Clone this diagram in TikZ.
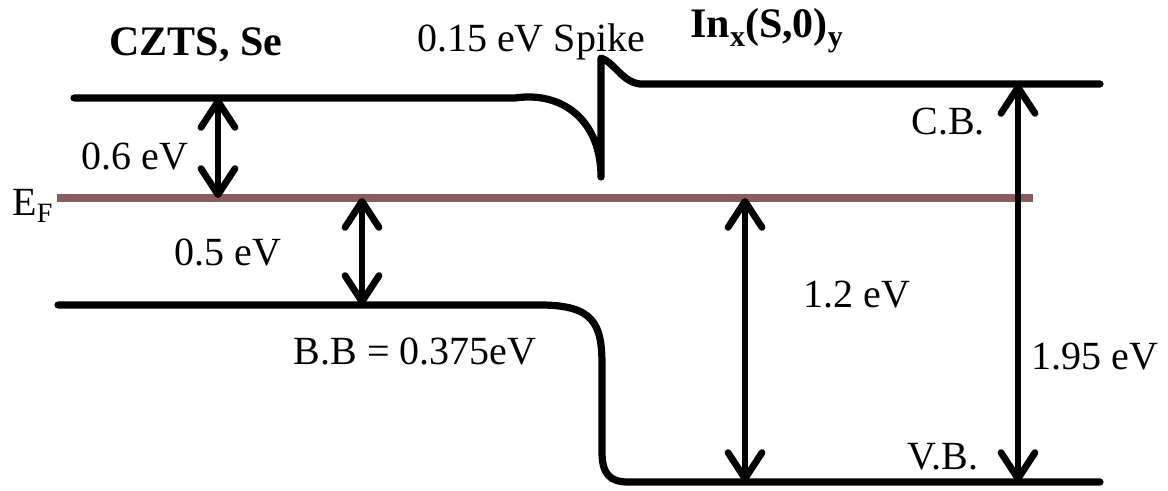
\documentclass[tikz,border=0pt]{standalone}
\usepackage{fontspec}
\setmainfont{Liberation Serif}
\usepackage{xcolor}
\usepackage{tikz}
\usetikzlibrary{arrows.meta,positioning}
\definecolor{fermic}{HTML}{8C5C5C}
\newcommand{\lowsub}[1]{\raisebox{-0.45ex}{\fontsize{15}{18}\selectfont #1}}
\tikzset{
  levelline/.style={draw=black, line width=3.6pt, line cap=round, line join=round},
  fermiline/.style={draw=fermic, line width=3.6pt},
  gaparrow/.style={{Straight Barb[length=13pt,width=17pt,line width=3.4pt,round]}-{Straight Barb[length=13pt,width=17pt,line width=3.4pt,round]},
    draw=black, line width=3.4pt},
  labeltext/.style={inner sep=0pt, font=\fontsize{20}{24}\selectfont},
  titletext/.style={inner sep=0pt, font=\fontsize{21}{25}\selectfont\bfseries},
}
\begin{document}
\begin{tikzpicture}[x=0.5pt, y=-0.5pt]
  \useasboundingbox (0,0) rectangle (1168,491);
  \coordinate (cbleft) at (74,98);
  \coordinate (cbbend) at (515,98);
  \coordinate (spikelow) at (601,177);
  \coordinate (spiketop) at (601,58);
  \coordinate (cbshelf) at (640,84);
  \coordinate (cbright) at (1100,84);
  \coordinate (vbleft) at (58,305);
  \coordinate (vbbend) at (540,305);
  \coordinate (vbright) at (1100,482);
  \coordinate (efleft) at (57,198);
  \coordinate (efright) at (1033,198);
  \draw[fermiline] (efleft) -- (efright);
  \draw[levelline] (cbleft) -- (cbbend) .. controls (562,91) and (601,120) .. (spikelow)
    -- (spiketop) .. controls (614,62) and (622,82) .. (cbshelf) -- (cbright);
  \draw[levelline] (vbleft) -- (vbbend) .. controls (594,305) and (602,324) .. (602,365)
    -- (602,452) .. controls (602,474) and (610,482) .. (628,482) -- (vbright);
  \coordinate (acb) at (218,98);
  \coordinate (aef) at (218,198);
  \coordinate (bef) at (362,198);
  \coordinate (bvb) at (362,305);
  \coordinate (cef) at (745,198);
  \coordinate (cvb) at (745,482);
  \coordinate (dcb) at (1018,84);
  \coordinate (dvb) at (1018,482);
  \draw[gaparrow] (acb) -- (aef);
  \draw[gaparrow] (bef) -- (bvb);
  \draw[gaparrow] (cef) -- (cvb);
  \draw[gaparrow] (dcb) -- (dvb);
  \node[titletext] (absorber) at (196,45) {CZTS, Se};
  \node[titletext, anchor=base west] (buffer) at (690,38) {In\lowsub{x}(S,0)\lowsub{y}};
  \node[labeltext] (spike) at (531,42) {0.15 eV Spike};
  \node[labeltext] (ef) at (33,206) {E\textsubscript{F}};
  \node[labeltext] (gapcb) at (135,157) {0.6 eV};
  \node[labeltext] (gapvb) at (228,253) {0.5 eV};
  \node[labeltext] (bandbend) at (415,352) {B.B = 0.375eV};
  \node[labeltext] (gapin) at (857,295) {1.2 eV};
  \node[labeltext] (cblabel) at (948,122) {C.B.};
  \node[labeltext] (vblabel) at (943,457) {V.B.};
  \node[labeltext] (bandgap) at (1095,357) {1.95 eV};
\end{tikzpicture}
\end{document}
